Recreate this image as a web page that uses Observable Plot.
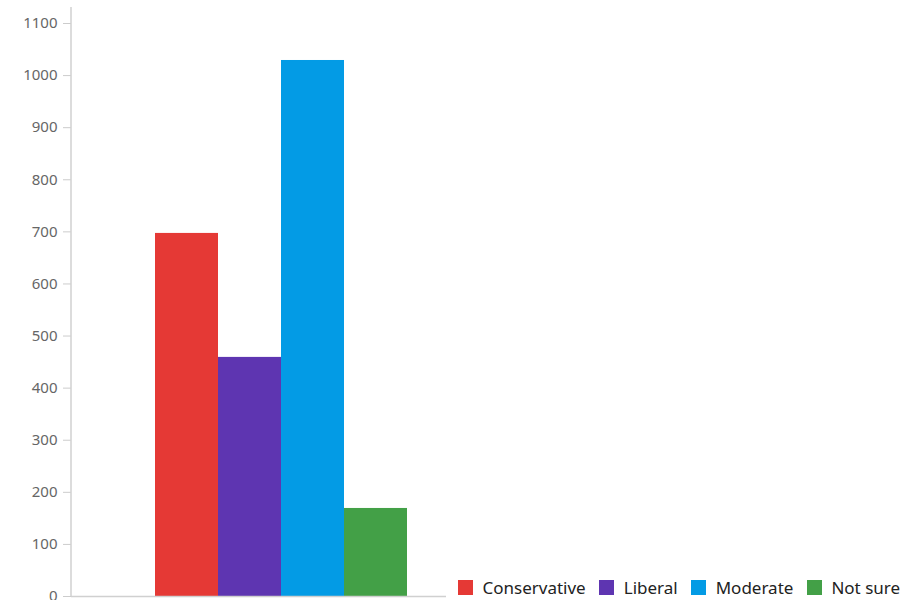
<!DOCTYPE html>
<html>
<head>
<meta charset="utf-8">
<script src="https://cdn.jsdelivr.net/npm/d3@7"></script>
<script src="https://cdn.jsdelivr.net/npm/@observablehq/plot@0.6"></script>
<style>
  html, body { margin: 0; padding: 0; background: #fff; overflow: hidden; }
  #wrap { position: relative; width: 918px; height: 600px; }
  #legend { position: absolute; left: 458px; top: 576px; display: flex; align-items: center;
            font-family: "Noto Sans", sans-serif; font-size: 17px; color: #222; white-space: nowrap; }
  #legend .item { display: flex; align-items: center; margin-right: 13.5px; }
  #legend .sw { width: 15px; height: 15px; margin-right: 9.5px; }
</style>
</head>
<body>
<div id="wrap"><div id="chart"></div><div id="legend"></div></div>
<script>
const categories = ["Conservative", "Liberal", "Moderate", "Not sure"];
const values = [697, 459, 1029, 169];
const colors = ["#e53935", "#5e35b1", "#039be5", "#43a047"];
const yTicks = [0, 100, 200, 300, 400, 500, 600, 700, 800, 900, 1000, 1100];

const data = categories.map((c, i) => ({category: c, value: values[i]}));

const leftLine = (index, scales, values, dimensions) => {
  const g = document.createElementNS("http://www.w3.org/2000/svg", "line");
  g.setAttribute("x1", dimensions.marginLeft);
  g.setAttribute("x2", dimensions.marginLeft);
  g.setAttribute("y1", dimensions.marginTop);
  g.setAttribute("y2", dimensions.height - dimensions.marginBottom);
  g.setAttribute("stroke", "#d0d0d0");
  g.setAttribute("stroke-width", 1.5);
  return g;
};

const chart = Plot.plot({
  width: 918,
  height: 600,
  marginLeft: 71,
  marginRight: 472,
  marginTop: 7,
  marginBottom: 4,
  style: {fontFamily: "Noto Sans, sans-serif", fontSize: "15px", background: "#fff"},
  x: {type: "band", domain: categories, range: [155, 407], padding: 0, axis: null},
  y: {domain: [0, 1100], range: [596, 23], axis: null},
  color: {domain: categories, range: colors},
  marks: [
    Plot.barY(data, {x: "category", y: "value", fill: "category"}),
    Plot.axisY({ticks: yTicks, tickFormat: d => String(d), tickSize: 8, tickPadding: 6, label: null, stroke: "#cccccc", fill: "#666", fontSize: 15}),
    Plot.ruleY([0], {stroke: "#d0d0d0", strokeWidth: 1.5}),
    leftLine
  ]
});
document.getElementById("chart").appendChild(chart);

const legend = document.getElementById("legend");
categories.forEach((c, i) => {
  const item = document.createElement("div");
  item.className = "item";
  const sw = document.createElement("div");
  sw.className = "sw";
  sw.style.background = colors[i];
  const t = document.createElement("span");
  t.textContent = c;
  item.appendChild(sw);
  item.appendChild(t);
  legend.appendChild(item);
});
</script>
</body>
</html>
